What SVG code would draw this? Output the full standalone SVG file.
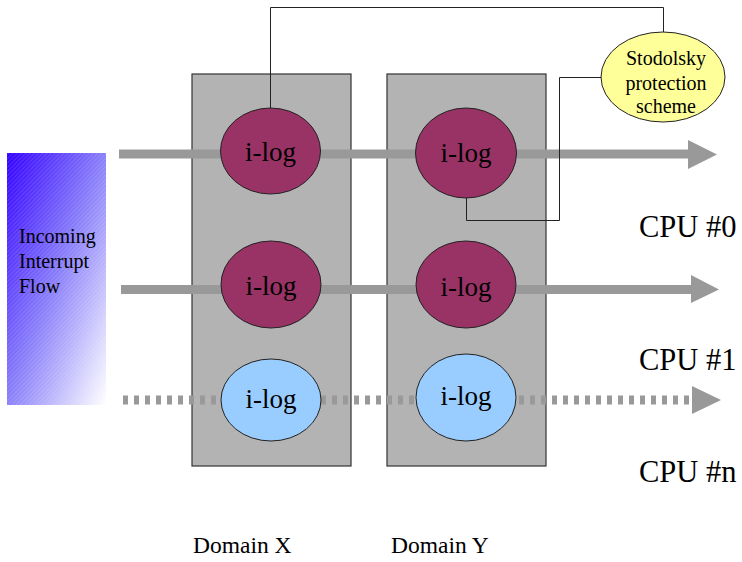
<svg xmlns="http://www.w3.org/2000/svg" width="742" height="562" viewBox="0 0 742 562">
<defs>
<style>
text{font-family:"Liberation Serif","Times New Roman",serif;fill:#000}
.dom{fill:#b3b3b3;stroke:#333;stroke-width:1.2}
.red{fill:#993366;stroke:#222;stroke-width:1}
.blue{fill:#99ccff;stroke:#222;stroke-width:1}
.lbl{font-size:27px;text-anchor:middle}
.cpu{font-size:30.5px}
.dn{font-size:23.5px}
.bar{stroke:#999;stroke-width:9;fill:none}
.dot{stroke-dasharray:5 6}
.head{fill:#999}
.wire{stroke:#222;stroke-width:1;fill:none}
</style>
<linearGradient id="grad" x1="0" y1="0" x2="1" y2="1">
<stop offset="0" stop-color="#3300ff"/>
<stop offset="0.5" stop-color="#8a80fa"/>
<stop offset="1" stop-color="#ffffff"/>
</linearGradient>
<pattern id="hatch" width="3" height="3" patternUnits="userSpaceOnUse" patternTransform="rotate(45)">
<line x1="0" y1="0" x2="0" y2="3" stroke="#ffffff" stroke-width="1" opacity="0.25"/>
</pattern>
</defs>

<g id="incoming">
<rect x="7" y="153" width="99" height="252" fill="url(#grad)"/>
<rect x="7" y="153" width="99" height="252" fill="url(#hatch)"/>
<text x="19" y="243" font-size="20">Incoming</text>
<text x="19" y="268" font-size="20">Interrupt</text>
<text x="19" y="293" font-size="20">Flow</text>
</g>

<g id="domainX">
<rect class="dom" x="192" y="74" width="159" height="392"/>
</g>
<g id="domainY">
<rect class="dom" x="387" y="74" width="159" height="392"/>
</g>

<g id="connectors">
<line class="bar" x1="119" y1="154" x2="689" y2="154"/>
<polygon class="head" points="688,140 717,154.5 688,169"/>
<line class="bar" x1="121" y1="289.5" x2="692" y2="289.5"/>
<polygon class="head" points="691,275 719,289.5 691,303"/>
<line class="bar dot" x1="123" y1="400" x2="692" y2="400"/>
<polygon class="head" points="692,386 721,400 692,414"/>
<polyline class="wire" points="270.5,108 270.5,7.5 663.5,7.5 663.5,32"/>
<polyline class="wire" points="601,77.5 559.5,77.5 559.5,220.5 466.5,220.5 466.5,198"/>
</g>

<g id="ilogX0">
<ellipse class="red" cx="270.5" cy="151" rx="50" ry="43"/>
<text class="lbl" x="270.5" y="161">i-log</text>
</g>
<g id="ilogY0">
<ellipse class="red" cx="466" cy="153" rx="50.5" ry="45"/>
<text class="lbl" x="466" y="162">i-log</text>
</g>
<g id="ilogX1">
<ellipse class="red" cx="271" cy="284.5" rx="50" ry="43.5"/>
<text class="lbl" x="271" y="295">i-log</text>
</g>
<g id="ilogY1">
<ellipse class="red" cx="466" cy="284.5" rx="50" ry="43.5"/>
<text class="lbl" x="466" y="296">i-log</text>
</g>
<g id="ilogXn">
<ellipse class="blue" cx="271" cy="400" rx="50" ry="41"/>
<text class="lbl" x="271" y="408">i-log</text>
</g>
<g id="ilogYn">
<ellipse class="blue" cx="466" cy="397.5" rx="50" ry="43.5"/>
<text class="lbl" x="466" y="405">i-log</text>
</g>

<g id="stodolsky">
<ellipse cx="663" cy="77" rx="62" ry="45" fill="#ffff99" stroke="#222" stroke-width="1"/>
<text x="666" y="65" font-size="20" text-anchor="middle">Stodolsky</text>
<text x="666" y="90" font-size="20" text-anchor="middle">protection</text>
<text x="666" y="113" font-size="20" text-anchor="middle">scheme</text>
</g>

<g id="labels">
<text class="cpu" x="639" y="237">CPU #0</text>
<text class="cpu" x="639" y="370">CPU #1</text>
<text class="cpu" x="639" y="482">CPU #n</text>
<text class="dn" x="193" y="553">Domain X</text>
<text class="dn" x="391" y="553">Domain Y</text>
</g>
</svg>
